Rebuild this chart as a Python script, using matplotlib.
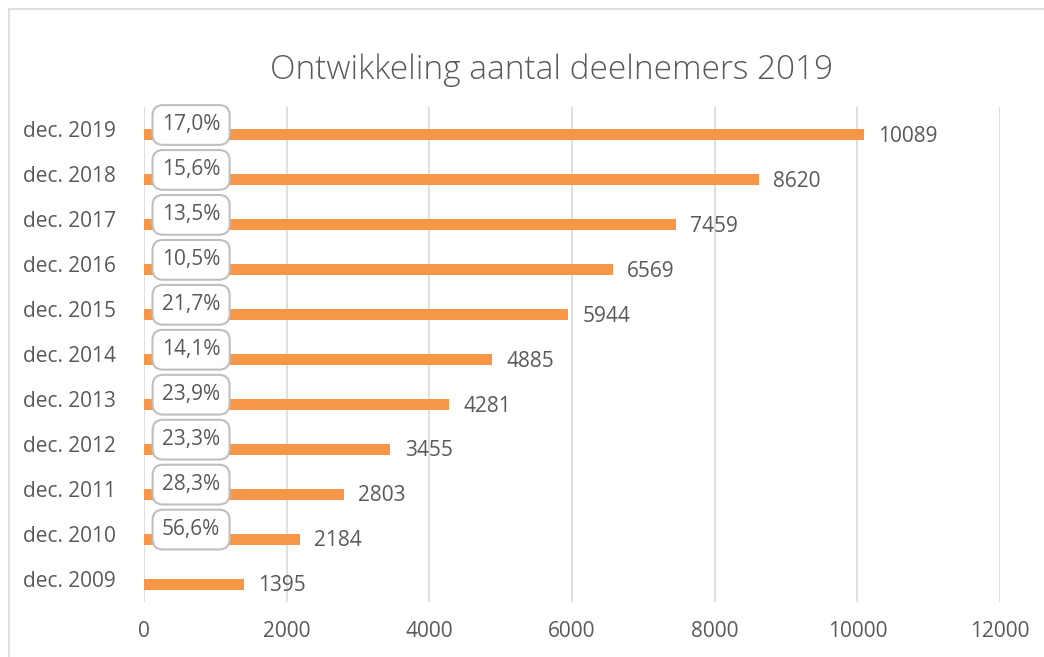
import matplotlib
matplotlib.use("Agg")
import matplotlib.pyplot as plt
from matplotlib.patches import Rectangle

categories = ["dec. 2019", "dec. 2018", "dec. 2017", "dec. 2016", "dec. 2015",
              "dec. 2014", "dec. 2013", "dec. 2012", "dec. 2011", "dec. 2010", "dec. 2009"]
deelnemers = [10089, 8620, 7459, 6569, 5944, 4885, 4281, 3455, 2803, 2184, 1395]
groei = ["17,0%", "15,6%", "13,5%", "10,5%", "21,7%", "14,1%", "23,9%", "23,3%", "28,3%", "56,6%", None]
xticks = [0, 2000, 4000, 6000, 8000, 10000, 12000]

plt.rcParams['font.family'] = ['Open Sans', 'DejaVu Sans']
txt = '#595959'
orange = '#F79646'
fs = 15

fig = plt.figure(figsize=(10.44, 6.57), dpi=100)
W, H = 1044, 657
ax = fig.add_axes([144 / W, (H - 601.5) / H, (1000 - 144) / W, (601.5 - 107) / H])

# chart border (cropped)
fig.patches.append(Rectangle((8.5 / W, -0.1), 1.2, (H - 9) / H + 0.1, transform=fig.transFigure,
                             fill=False, edgecolor='#d9d9d9', linewidth=1.2))

ypos = list(range(len(categories)))
bar_h = 0.245
off = 0.122
ax.barh([y + off for y in ypos], deelnemers, height=bar_h, color=orange, zorder=2)

for y, v in zip(ypos, deelnemers):
    ax.text(v + 200, y + off + 0.03, str(v), va='center', ha='left', fontsize=fs, color=txt)

for y, g in zip(ypos, groei):
    if g is None:
        continue
    ax.text(660, y - 0.1, g, va='center', ha='center', fontsize=fs, color=txt, zorder=4,
            bbox=dict(boxstyle='round,pad=0.45,rounding_size=0.5', facecolor='white',
                      edgecolor='#bfbfbf', linewidth=1.5))

ax.set_xlim(0, 12000)
ax.set_ylim(len(categories) - 0.5, -0.5)
ax.set_xticks(xticks)
ax.set_xticklabels([str(t) for t in xticks])
ax.set_yticks(ypos)
ax.set_yticklabels(categories)
ax.tick_params(axis='both', length=0, labelsize=fs, labelcolor=txt)
ax.tick_params(axis='x', pad=14)
ax.tick_params(axis='y', pad=20)
ax.grid(axis='x', color='#d9d9d9', linewidth=1.2, zorder=0)
ax.set_axisbelow(True)
for s in ax.spines.values():
    s.set_visible(False)

fig.text(552 / W, (H - 70) / H, "Ontwikkeling aantal deelnemers 2019", ha='center', va='center',
         fontsize=24, color=txt, fontweight='light')

fig.savefig("out.png", dpi=100, facecolor='white')
